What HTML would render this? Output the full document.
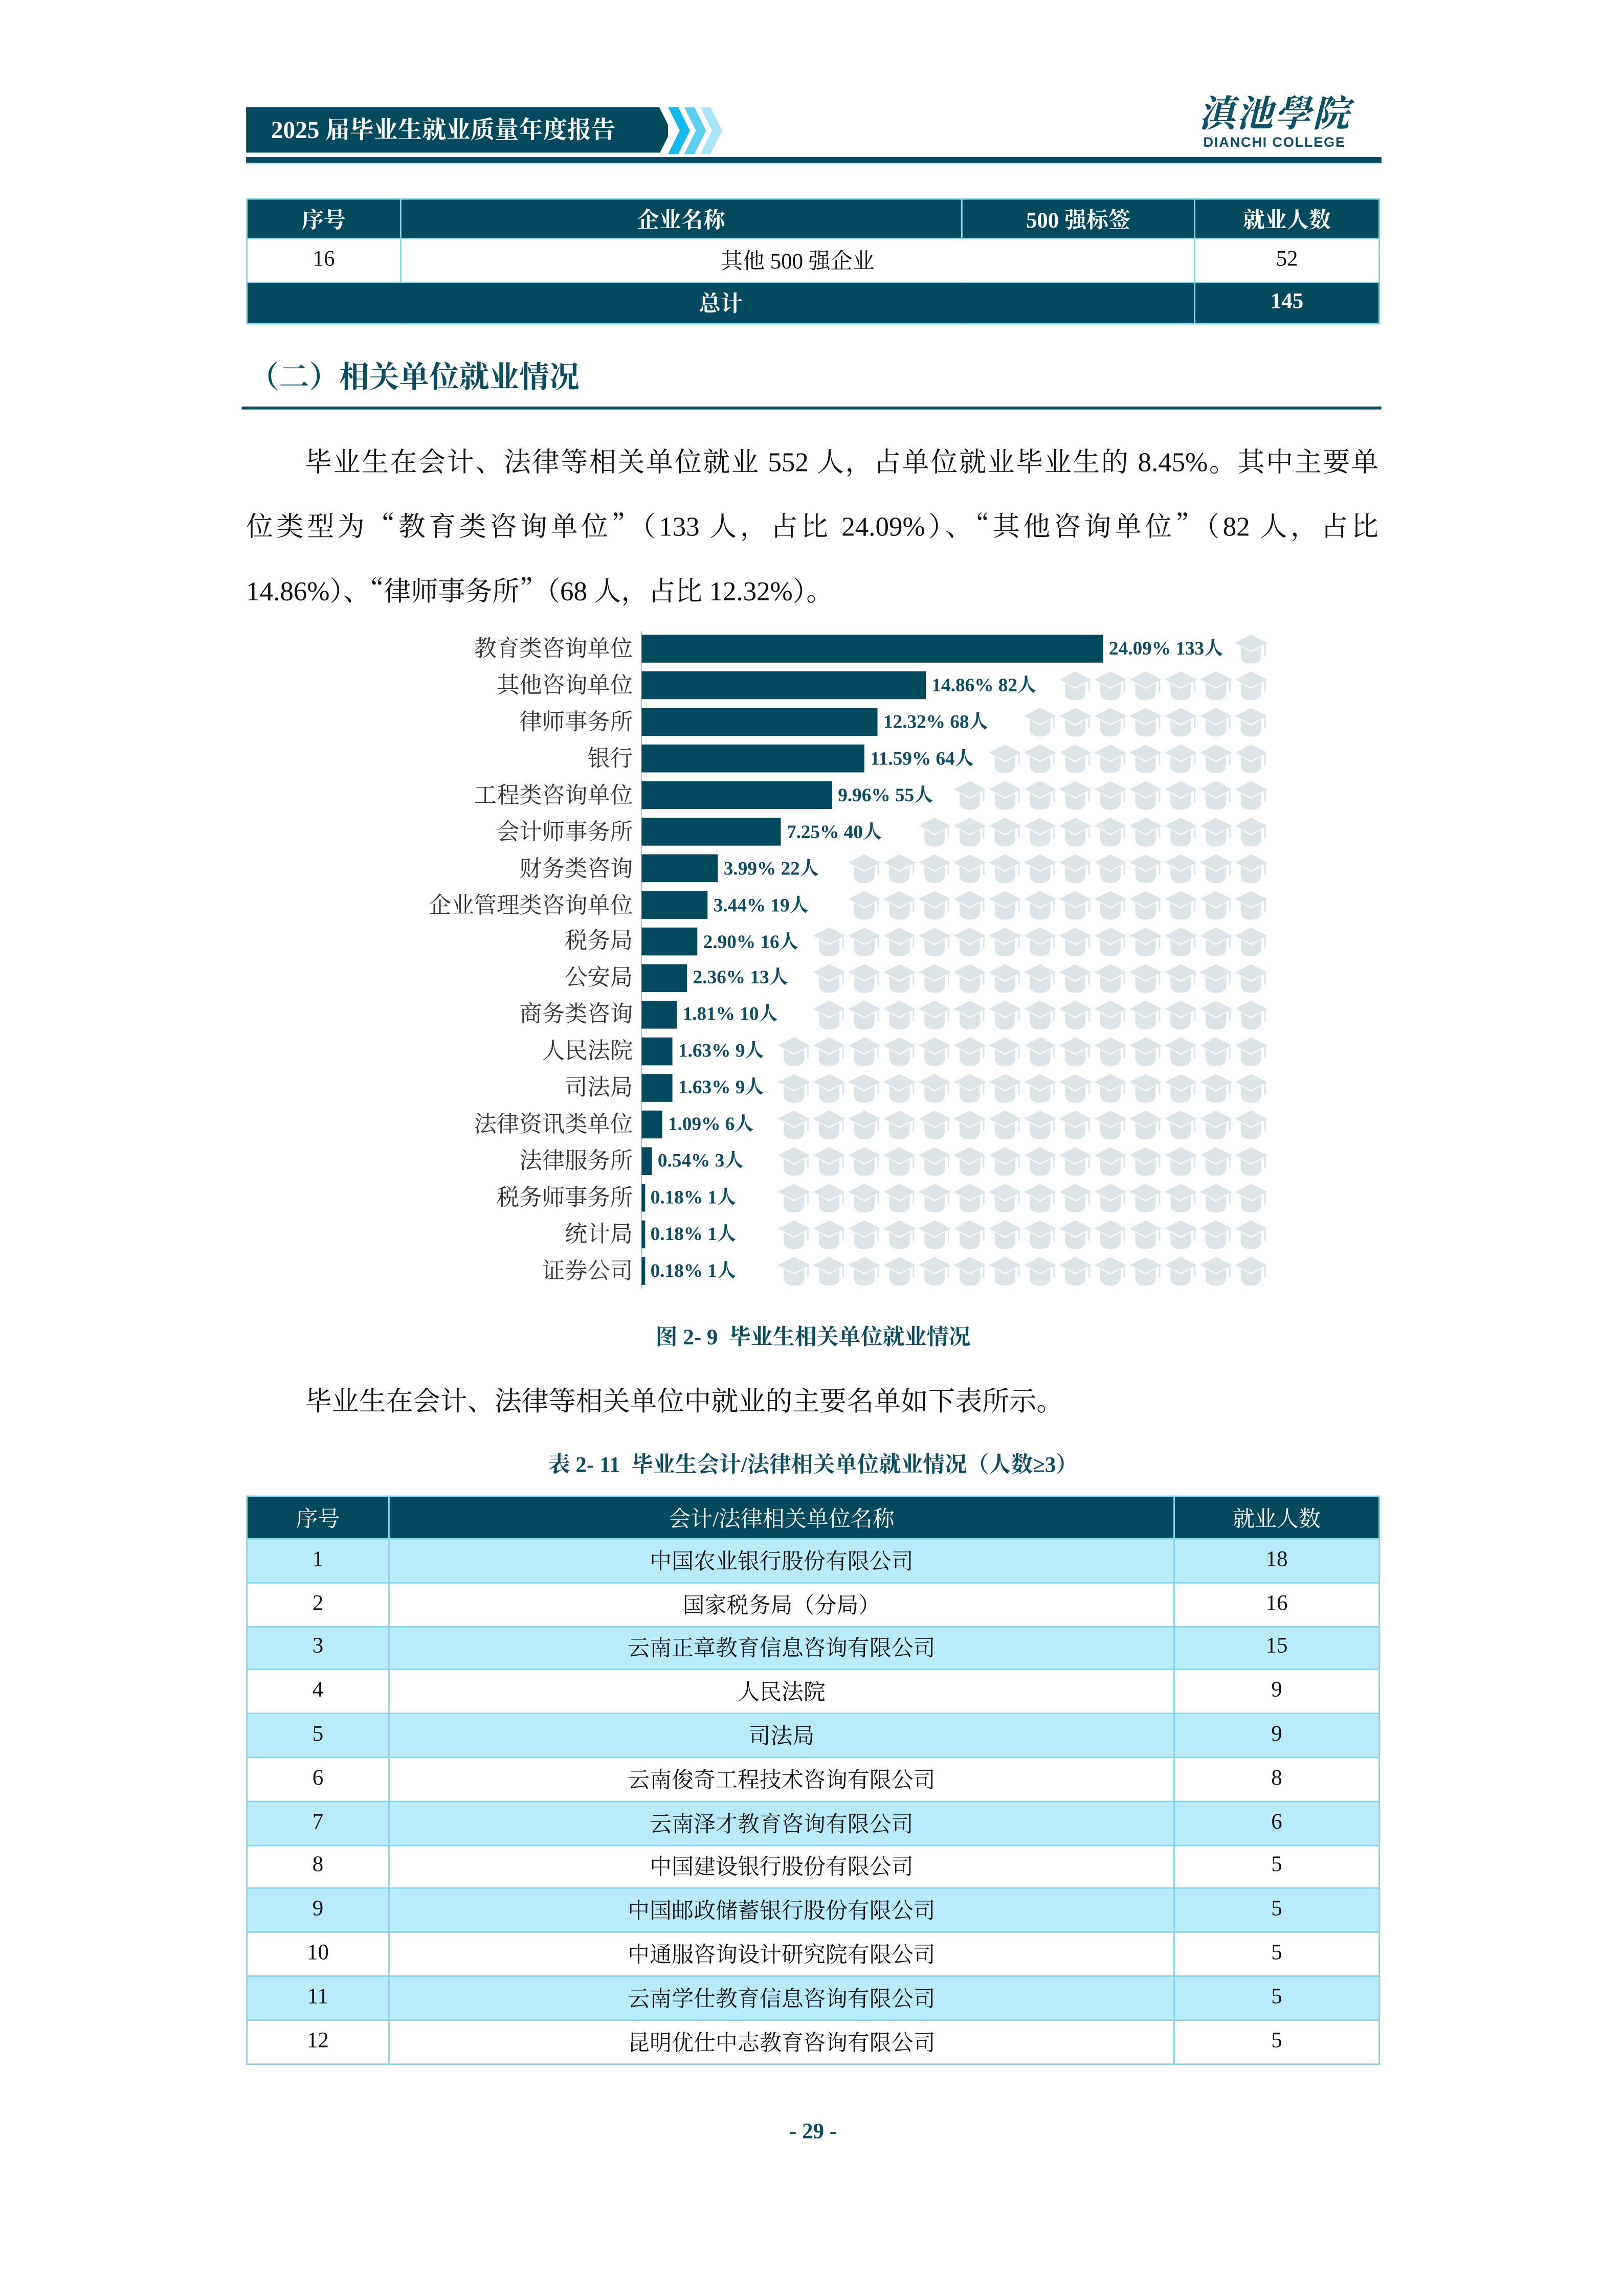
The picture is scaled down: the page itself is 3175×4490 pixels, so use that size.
<!DOCTYPE html>
<html><head><meta charset="utf-8">
<style>
html,body{margin:0;padding:0;background:#fff;}
body{width:3175px;height:4490px;overflow:hidden;position:relative;}
#pg{position:absolute;left:0;top:0;width:1100px;height:1560px;transform:scale(2.864,2.870);transform-origin:0 0;font-family:"Liberation Serif","Noto Serif CJK SC",serif;color:#111;}
.a{position:absolute;}
.t{border-collapse:collapse;position:absolute;table-layout:fixed;}
.t td{border:1px solid #7fd8f0;text-align:center;padding:0;font-size:15px;}
.dk td{background:#044a5f;color:#fff;font-weight:bold;}
.cy td{background:#b8ecfa;}
.p{position:absolute;left:168px;width:773px;font-size:18.5px;text-align:justify;text-align-last:justify;white-space:nowrap;}
.q{font-family:"Noto Serif CJK SC",serif;}
</style></head><body><div id="pg">
<!-- header -->
<div class="a" style="left:168px;top:73px;width:288px;height:31px;background:#044a5f;"></div>
<div class="a" style="left:185px;top:76px;font-size:16.5px;font-weight:bold;color:#fff;line-height:25px;">2025 届毕业生就业质量年度报告</div>
<svg class="a" style="left:450px;top:73px" width="55" height="32">
<polygon points="0,0 6,0 14,16 6,32 0,32 8,16" fill="#fff"/>
<polygon points="6,0 13,0 21,16 13,32 6,32 14,16" fill="#16b9ea"/>
<polygon points="17,0 24,0 32,16 24,32 17,32 25,16" fill="#5fcdee"/>
<polygon points="28,0 35,0 43,16 35,32 28,32 36,16" fill="#a9e5f6"/>
</svg>
<div class="a" style="left:810px;top:60px;width:120px;text-align:center;font-size:25px;font-weight:bold;color:#0d5166;font-family:'Noto Serif CJK SC',serif;font-style:italic;letter-spacing:1px;line-height:32px;">滇池學院</div>
<div class="a" style="left:810px;top:92px;width:120px;text-align:center;font-size:9.5px;color:#0d5166;font-family:'Liberation Sans',sans-serif;font-weight:bold;letter-spacing:0.6px;">DIANCHI COLLEGE</div>
<div class="a" style="left:168px;top:107px;width:775px;height:4px;background:#044a5f;border-bottom:1px solid #bfe9f5;"></div>

<!-- table 1 -->
<table class="t" style="left:168px;top:135px;width:773px;">
<colgroup><col style="width:105px"><col style="width:383px"><col style="width:159px"><col style="width:126px"></colgroup>
<tr class="dk" style="height:27px"><td>序号</td><td>企业名称</td><td>500 强标签</td><td>就业人数</td></tr>
<tr style="height:30px"><td>16</td><td colspan="2">其他 500 强企业</td><td>52</td></tr>
<tr class="dk" style="height:28px"><td colspan="3">总计</td><td>145</td></tr>
</table>

<div class="a" style="left:170px;top:240px;font-size:20.5px;font-weight:bold;color:#0d4d62;">（二）相关单位就业情况</div>
<div class="a" style="left:165px;top:277px;width:778px;height:1.5px;background:#0d4d62;"></div>

<div class="p" style="top:301px;padding-left:40px;width:733px;">毕业生在会计、法律等相关单位就业 552 人，占单位就业毕业生的 8.45%。其中主要单</div>
<div class="p" style="top:345px;">位类型为<span class="q">“</span>教育类咨询单位<span class="q">”</span>（133 人，占比 24.09%）、<span class="q">“</span>其他咨询单位<span class="q">”</span>（82 人，占比</div>
<div class="p" style="top:389px;text-align-last:left;">14.86%）、<span class="q">“</span>律师事务所<span class="q">”</span>（68 人，占比 12.32%）。</div>

<!-- chart -->
<svg class="a" style="left:0;top:0" width="1100" height="900" font-family="Liberation Serif, Noto Serif CJK SC, serif">
<defs>
<pattern id="ic" patternUnits="userSpaceOnUse" x="842" y="429.53" width="24" height="24.94">
<g fill="#dde4e7">
<polygon points="12,3 23,8.5 12,14 1,8.5"/>
<path d="M5,11 L12,15 L19,11 L19,17 Q19,22.5 12,22.5 Q5,22.5 5,17 Z"/>
<rect x="21" y="9" width="1" height="8"/>
</g>
</pattern>
</defs>
<g>
<rect x="842" y="429.53" width="24" height="24.94" fill="url(#ic)"/>
<rect x="722" y="454.47" width="144" height="24.94" fill="url(#ic)"/>
<rect x="698" y="479.41" width="168" height="24.94" fill="url(#ic)"/>
<rect x="674" y="504.35" width="192" height="24.94" fill="url(#ic)"/>
<rect x="650" y="529.29" width="216" height="24.94" fill="url(#ic)"/>
<rect x="626" y="554.23" width="240" height="24.94" fill="url(#ic)"/>
<rect x="578" y="579.17" width="288" height="49.88" fill="url(#ic)"/>
<rect x="554" y="629.05" width="312" height="74.82" fill="url(#ic)"/>
<rect x="530" y="703.87" width="336" height="174.6" fill="url(#ic)"/>
</g>
<line x1="438" y1="430" x2="438" y2="878" stroke="#9fb2b8" stroke-width="0.6"/>
<g fill="#044a5f">
<rect x="438" y="432.5" width="315" height="19"/>
<rect x="438" y="457.4" width="194" height="19"/>
<rect x="438" y="482.4" width="161" height="19"/>
<rect x="438" y="507.3" width="152" height="19"/>
<rect x="438" y="532.3" width="130" height="19"/>
<rect x="438" y="557.2" width="95" height="19"/>
<rect x="438" y="582.1" width="52" height="19"/>
<rect x="438" y="607.1" width="45" height="19"/>
<rect x="438" y="632.0" width="38" height="19"/>
<rect x="438" y="657.0" width="31" height="19"/>
<rect x="438" y="681.9" width="24" height="19"/>
<rect x="438" y="706.9" width="21" height="19"/>
<rect x="438" y="731.8" width="21" height="19"/>
<rect x="438" y="756.7" width="14" height="19"/>
<rect x="438" y="781.7" width="7" height="19"/>
<rect x="438" y="806.6" width="2.4" height="19"/>
<rect x="438" y="831.6" width="2.4" height="19"/>
<rect x="438" y="856.5" width="2.4" height="19"/>
</g>
<g font-size="15.5" text-anchor="end" fill="#333">
<text x="432" y="447">教育类咨询单位</text>
<text x="432" y="472">其他咨询单位</text>
<text x="432" y="497">律师事务所</text>
<text x="432" y="522">银行</text>
<text x="432" y="547">工程类咨询单位</text>
<text x="432" y="572">会计师事务所</text>
<text x="432" y="597">财务类咨询</text>
<text x="432" y="622">企业管理类咨询单位</text>
<text x="432" y="646">税务局</text>
<text x="432" y="671">公安局</text>
<text x="432" y="696">商务类咨询</text>
<text x="432" y="721">人民法院</text>
<text x="432" y="746">司法局</text>
<text x="432" y="771">法律资讯类单位</text>
<text x="432" y="796">法律服务所</text>
<text x="432" y="821">税务师事务所</text>
<text x="432" y="846">统计局</text>
<text x="432" y="871">证券公司</text>
</g>
<g font-size="13" font-weight="bold" fill="#0d4d62">
<text x="757" y="446">24.09% 133人</text>
<text x="636" y="471">14.86% 82人</text>
<text x="603" y="496">12.32% 68人</text>
<text x="594" y="521">11.59% 64人</text>
<text x="572" y="546">9.96% 55人</text>
<text x="537" y="571">7.25% 40人</text>
<text x="494" y="596">3.99% 22人</text>
<text x="487" y="621">3.44% 19人</text>
<text x="480" y="646">2.90% 16人</text>
<text x="473" y="670">2.36% 13人</text>
<text x="466" y="695">1.81% 10人</text>
<text x="463" y="720">1.63% 9人</text>
<text x="463" y="745">1.63% 9人</text>
<text x="456" y="770">1.09% 6人</text>
<text x="449" y="795">0.54% 3人</text>
<text x="444" y="820">0.18% 1人</text>
<text x="444" y="845">0.18% 1人</text>
<text x="444" y="870">0.18% 1人</text>
</g>
</svg>

<div class="a" style="left:0;width:1110px;top:900px;text-align:center;font-size:15px;font-weight:bold;color:#0d4d62;">图 2- 9&nbsp; 毕业生相关单位就业情况</div>
<div class="a" style="left:208px;top:941px;font-size:18.5px;">毕业生在会计、法律等相关单位中就业的主要名单如下表所示。</div>
<div class="a" style="left:0;width:1110px;top:987px;text-align:center;font-size:15px;font-weight:bold;color:#0d4d62;">表 2- 11&nbsp; 毕业生会计/法律相关单位就业情况（人数≥3）</div>

<table class="t" style="left:168px;top:1019px;width:773px;">
<colgroup><col style="width:97px"><col style="width:536px"><col style="width:140px"></colgroup>
<tr class="dk" style="height:29px"><td style="font-weight:normal">序号</td><td style="font-weight:normal">会计/法律相关单位名称</td><td style="font-weight:normal">就业人数</td></tr>
<tr class="cy" style="height:29.8px"><td>1</td><td>中国农业银行股份有限公司</td><td>18</td></tr>
<tr style="height:29.8px"><td>2</td><td>国家税务局（分局）</td><td>16</td></tr>
<tr class="cy" style="height:29.8px"><td>3</td><td>云南正章教育信息咨询有限公司</td><td>15</td></tr>
<tr style="height:29.8px"><td>4</td><td>人民法院</td><td>9</td></tr>
<tr class="cy" style="height:29.8px"><td>5</td><td>司法局</td><td>9</td></tr>
<tr style="height:29.8px"><td>6</td><td>云南俊奇工程技术咨询有限公司</td><td>8</td></tr>
<tr class="cy" style="height:29.8px"><td>7</td><td>云南泽才教育咨询有限公司</td><td>6</td></tr>
<tr style="height:29.8px"><td>8</td><td>中国建设银行股份有限公司</td><td>5</td></tr>
<tr class="cy" style="height:29.8px"><td>9</td><td>中国邮政储蓄银行股份有限公司</td><td>5</td></tr>
<tr style="height:29.8px"><td>10</td><td>中通服咨询设计研究院有限公司</td><td>5</td></tr>
<tr class="cy" style="height:29.8px"><td>11</td><td>云南学仕教育信息咨询有限公司</td><td>5</td></tr>
<tr style="height:29.8px"><td>12</td><td>昆明优仕中志教育咨询有限公司</td><td>5</td></tr>
</table>

<div class="a" style="left:0;width:1110px;top:1445px;text-align:center;font-size:15px;font-weight:bold;color:#0d4d62;">- 29 -</div>
</div></body></html>
